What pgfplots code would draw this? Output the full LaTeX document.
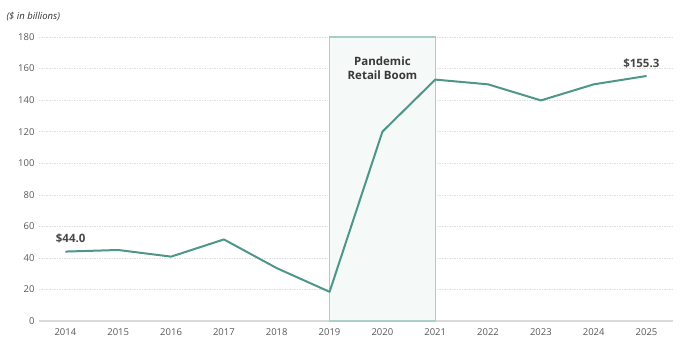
\documentclass[border=0pt]{standalone}
\usepackage{pgfplots}
\pgfplotsset{compat=1.18}
\usepackage{fontspec}
\setmainfont{Open Sans}
\definecolor{lineC}{RGB}{79,150,138}
\definecolor{boxE}{RGB}{168,208,200}
\definecolor{boxF}{RGB}{245,249,248}
\definecolor{tickC}{RGB}{89,89,89}
\definecolor{gridC}{RGB}{222,222,222}
\definecolor{axisC}{RGB}{217,217,217}
\begin{document}
\begin{tikzpicture}[x=1pt,y=1pt]
\useasboundingbox (-39,-40) rectangle (651,321);
\begin{axis}[
  scale only axis, width=634pt, height=284pt,
  xmin=2013.5, xmax=2025.5, ymin=0, ymax=180,
  xtick={2014,...,2025}, ytick={0,20,...,180},
  /pgf/number format/assume math mode=true,
  xticklabel style={/pgf/number format/1000 sep={}, font=\fontsize{9.5}{11}\selectfont, text=tickC, yshift=-4pt},
  yticklabel style={font=\fontsize{9.5}{11}\selectfont, text=tickC, xshift=-1pt},
  axis x line*=bottom, axis y line*=left,
  x axis line style={draw=axisC, line width=1.5pt, -},
  y axis line style={draw=none},
  major tick length=0pt,
  ymajorgrids, grid style={gridC, dash pattern=on 1.5pt off 1pt, line width=0.5pt},
  clip=false,
]
\addplot[draw=boxE, fill=boxF, line width=1.2pt] coordinates {(2019,0) (2019,180) (2021,180) (2021,0)} -- cycle;
\addplot[lineC, line width=2pt, line join=round] coordinates {
(2014,44.0) (2015,45.0) (2016,40.8) (2017,51.7) (2018,33.5) (2019,18.5)
(2020,120) (2021,153) (2022,150) (2023,139.8) (2024,150) (2025,155.3)};
\node[font=\fontsize{11.5}{14}\selectfont\bfseries, text=black!78, align=center] at (axis cs:2020,160) {Pandemic\\Retail Boom};
\node[font=\fontsize{11.5}{13}\selectfont\bfseries, text=black!72, anchor=south] at (axis cs:2014.1,47) {\$44.0};
\node[font=\fontsize{11.5}{13}\selectfont\bfseries, text=black!72, anchor=south] at (axis cs:2024.9,158) {\$155.3};
\end{axis}
\node[anchor=west, font=\fontsize{9.5}{11}\selectfont\itshape, text=black!80] at (-36,304) {(\$ in billions)};
\end{tikzpicture}
\end{document}
